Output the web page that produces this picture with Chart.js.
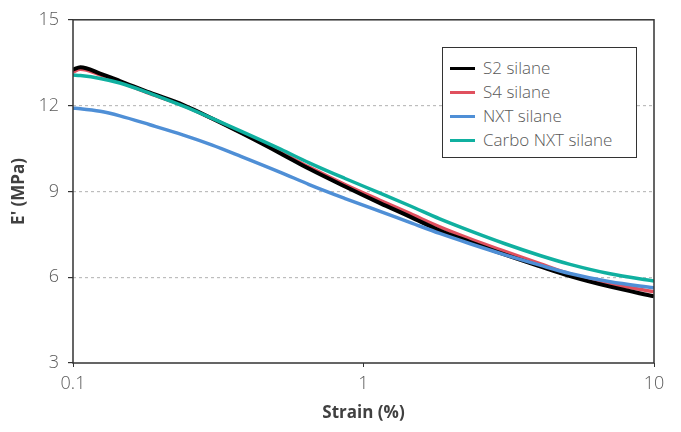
<!DOCTYPE html>
<html>
<head>
<meta charset="utf-8">
<script src="https://cdn.jsdelivr.net/npm/chart.js@4/dist/chart.umd.min.js"></script>
<style>
  html, body { margin: 0; padding: 0; background: #fff; }
  #wrap { position: relative; width: 681px; height: 432px; }
  #legend {
    position: absolute; left: 442px; top: 47px; width: 195px; height: 111px;
    border: 1.5px solid #333; box-sizing: border-box; background: #fff;
    font-family: 'Open Sans', 'Noto Sans', sans-serif; font-weight: 300; font-size: 17px; color: #595959;
    padding: 8px 0 0 7px;
  }
  #legend div { height: 24px; line-height: 24px; white-space: nowrap; }
  #legend span { display: inline-block; width: 25px; height: 3px; vertical-align: middle; margin-right: 8px; position: relative; top: -1px; }
</style>
</head>
<body>
<div id="wrap">
  <canvas id="chart" width="681" height="432"></canvas>
  <div id="legend"></div>
</div>
<script>
'use strict';

// strain values (%)
const strain = [0.1, 0.106, 0.124, 0.145, 0.184, 0.24, 0.3, 0.38, 0.52, 0.65, 0.86, 1.14, 1.45, 1.83, 2.33, 3.07, 4.05, 5.14, 7.06, 10];

const s2Values = [13.26, 13.34, 13.12, 12.86, 12.45, 12.02, 11.56, 11.04, 10.32, 9.79, 9.18, 8.59, 8.11, 7.63, 7.23, 6.79, 6.38, 6.04, 5.67, 5.33];
const s4Values = [13.18, 13.27, 13.08, 12.83, 12.42, 12.0, 11.55, 11.05, 10.36, 9.85, 9.25, 8.69, 8.22, 7.76, 7.34, 6.90, 6.47, 6.11, 5.77, 5.49];
const nxtValues = [11.91, 11.89, 11.80, 11.64, 11.33, 10.97, 10.63, 10.22, 9.66, 9.24, 8.76, 8.30, 7.91, 7.53, 7.17, 6.78, 6.42, 6.13, 5.84, 5.63];
const carboValues = [13.07, 13.05, 12.95, 12.79, 12.43, 11.98, 11.56, 11.10, 10.47, 10.0, 9.46, 8.94, 8.49, 8.04, 7.62, 7.17, 6.76, 6.45, 6.12, 5.87];

const seriesNames = ['S2 silane', 'S4 silane', 'NXT silane', 'Carbo NXT silane'];
const seriesColors = ['#000000', '#e0505e', '#4f8fd6', '#10b0a0'];

const xTicks = [0.1, 1, 10];
const yTicks = [3, 6, 9, 12, 15];

const textColor = '#5a5a5a';
const titleColor = '#404040';
const fontFamily = "'Open Sans', 'Noto Sans', sans-serif";

// box round the plot area
const frame = {
  id: 'frame',
  afterDraw(chart) {
    const a = chart.chartArea;
    const ctx = chart.ctx;
    ctx.save();
    ctx.strokeStyle = '#333';
    ctx.lineWidth = 1.5;
    ctx.strokeRect(a.left, a.top, a.right - a.left, a.bottom - a.top);
    ctx.restore();
  }
};

function makeSet(i, values, width, order) {
  return {
    label: seriesNames[i],
    data: strain.map((x, j) => ({ x: x, y: values[j] })),
    borderColor: seriesColors[i],
    backgroundColor: seriesColors[i],
    borderWidth: width,
    pointRadius: 0,
    cubicInterpolationMode: 'monotone',
    fill: false,
    order: order
  };
}

new Chart(document.getElementById('chart'), {
  type: 'line',
  data: {
    datasets: [
      makeSet(0, s2Values, 4, 2),
      makeSet(1, s4Values, 3.5, 3),
      makeSet(2, nxtValues, 3.5, 1),
      makeSet(3, carboValues, 3.5, 0)
    ]
  },
  options: {
    responsive: false,
    animation: false,
    layout: { padding: { left: 0, right: 27, top: 13, bottom: 0 } },
    plugins: { legend: { display: false }, tooltip: { enabled: false } },
    scales: {
      x: {
        type: 'logarithmic',
        min: 0.1,
        max: 10,
        afterBuildTicks(scale) { scale.ticks = xTicks.map(v => ({ value: v })); },
        afterFit(scale) { scale.height = 69; },
        grid: { drawOnChartArea: false, tickLength: 4, color: '#333' },
        border: { display: false },
        ticks: {
          color: textColor,
          font: { family: fontFamily, size: 18, weight: 300 },
          padding: 6,
          maxRotation: 0,
          callback: v => String(v)
        },
        title: {
          display: true,
          text: 'Strain (%)',
          color: titleColor,
          font: { family: fontFamily, size: 17, weight: 'bold' },
          padding: { top: 0, bottom: 9 }
        }
      },
      y: {
        min: 3,
        max: 15,
        afterBuildTicks(scale) { scale.ticks = yTicks.map(v => ({ value: v })); },
        afterFit(scale) { scale.width = 73; },
        grid: {
          color: ctx => (ctx.tick && (ctx.tick.value === 3 || ctx.tick.value === 15)) ? 'rgba(0,0,0,0)' : '#bdbdbd',
          lineWidth: 1.2,
          tickLength: 5,
          tickColor: '#333',
          tickBorderDash: []
        },
        border: { display: false, dash: [3, 3] },
        ticks: {
          color: textColor,
          font: { family: fontFamily, size: 18, weight: 300 },
          padding: 9
        },
        title: {
          display: true,
          text: "E' (MPa)",
          color: titleColor,
          font: { family: fontFamily, size: 17, weight: 'bold' },
          padding: { top: 9, bottom: 0 }
        }
      }
    }
  },
  plugins: [frame]
});

// legend boxed in the upper right
const legendElem = document.getElementById('legend');
for (let i = 0; i < seriesNames.length; i++) {
  let row = document.createElement('div');
  let swatch = document.createElement('span');
  swatch.style.background = seriesColors[i];
  row.appendChild(swatch);
  row.appendChild(document.createTextNode(seriesNames[i]));
  legendElem.appendChild(row);
}
</script>
</body>
</html>
